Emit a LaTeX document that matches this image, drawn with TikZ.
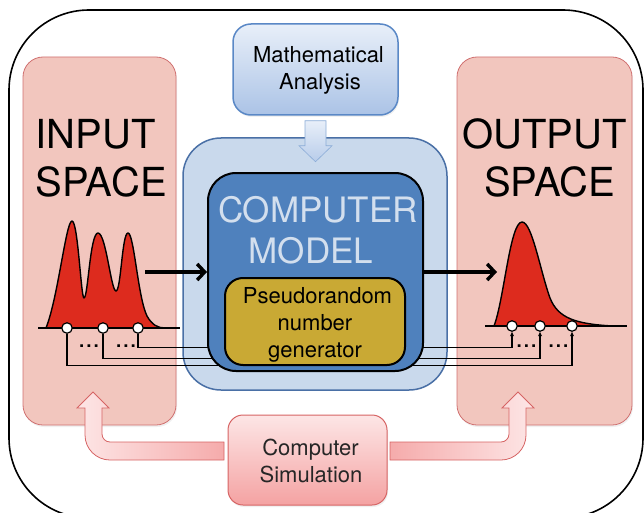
\documentclass[tikz,border=0pt]{standalone}
\usepackage{fontspec}
\setmainfont{TeX Gyre Heros}
\usetikzlibrary{arrows.meta,calc,shadows}

\definecolor{spacefill}{HTML}{F2C6BE}
\definecolor{spaceedge}{HTML}{D07070}
\definecolor{contfill}{HTML}{C9D9EC}
\definecolor{contedge}{HTML}{4A70A6}
\definecolor{modelfill}{HTML}{4F81BD}
\definecolor{modeltext}{HTML}{D3DFEE}
\definecolor{prngfill}{HTML}{C9A934}
\definecolor{mathtop}{HTML}{E8EFF9}
\definecolor{mathbot}{HTML}{ABC3E6}
\definecolor{mathedge}{HTML}{5A88C6}
\definecolor{simtop}{HTML}{FDE6E6}
\definecolor{simbot}{HTML}{F4A2A2}
\definecolor{simedge}{HTML}{D66464}
\definecolor{pdfred}{HTML}{DD2B1E}

\begin{document}
\begin{tikzpicture}[x=1pt,y=-1pt,
  panel/.style={rectangle, inner sep=0pt},
  spacebox/.style={panel, fill=spacefill, draw=spaceedge, line width=0.8pt,
    rounded corners=20pt,
    drop shadow={opacity=0.12, shadow xshift=1pt, shadow yshift=-2pt}},
  lbl/.style={inner sep=0pt, font=\fontsize{22}{27}\selectfont},
  biglbl/.style={inner sep=0pt, font=\fontsize{40}{47}\selectfont},
  modellbl/.style={inner sep=0pt, text=modeltext, font=\fontsize{35}{41}\selectfont},
  dotsl/.style={inner sep=0pt, font=\fontsize{26}{26}\selectfont},
  sample/.style={circle, draw=black, fill=white, line width=1.2pt,
    minimum size=10.5pt, inner sep=0pt},
  wire/.style={line width=1.1pt},
  wirein/.style={wire, -{Stealth[length=4.5pt,width=4pt]}},
  flow/.style={line width=3.4pt, -{Straight Barb[length=7.5pt,width=16pt]}},
  density/.style={fill=pdfred, draw=black, line width=1.4pt, line join=round},
  blockarrow/.style={draw=simedge, line width=0.8pt, line join=miter}
]
\useasboundingbox (0,0) rectangle (644,513);
\clip (0,0) rectangle (644,513);

% outer frame
\draw[line width=1.6pt, rounded corners=80pt] (9,10) rectangle (643,518);

% input and output spaces
\node[spacebox, minimum width=153pt, minimum height=368pt] (inbox) at (99.5,241) {};
\node[spacebox, minimum width=175pt, minimum height=368pt] (outbox) at (544.5,241) {};
\node[biglbl, anchor=base west] (inT1) at (35.5,149) {INPUT};
\node[biglbl, anchor=base west] (inT2) at (35.5,196) {SPACE};
\node[biglbl, anchor=base] (outT1) at (544.5,149) {OUTPUT};
\node[biglbl, anchor=base] (outT2) at (549.5,196) {SPACE};

% mathematical analysis
\node[panel, minimum width=165pt, minimum height=91pt, rounded corners=18pt,
  draw=mathedge, line width=1.5pt, top color=mathtop, bottom color=mathbot,
  drop shadow={opacity=0.12, shadow xshift=1pt, shadow yshift=-2pt}] (math) at (315.5,69.5) {};
\node[lbl, anchor=base] (mathT1) at (318.5,63) {Mathematical};
\node[lbl, anchor=base] (mathT2) at (320,90) {Analysis};

% container of the model
\node[panel, minimum width=264pt, minimum height=252pt, rounded corners=38pt,
  fill=contfill, draw=contedge, line width=1.5pt] (cont) at (315,264) {};

% block arrow from the analysis to the model
\path[draw=mathedge!70, line width=0.6pt, top color=mathtop, bottom color=mathbot!85]
  ($(math.south)+(-10.5,5)$) -- ++(21,0) -- ++(0,25) -- ++(6,0)
  -- ++(-16.5,16) -- ++(-16.5,-16) -- ++(6,0) -- cycle;

% input density
\path[density]
  (46,328) .. controls (58,298) and (66,221) .. (72,221)
  .. controls (78,221) and (81,298) .. (84,298)
  .. controls (88,298) and (90,233) .. (98,233)
  .. controls (106,233) and (111,291) .. (116,291)
  .. controls (121,291) and (122,233) .. (128,233)
  .. controls (134,233) and (138,298) .. (147,316)
  .. controls (152,325) and (158,328) .. (165,328) -- cycle;
\draw[line width=2pt] (38,328) -- (180,328);

% output density
\path[density]
  (494,326) .. controls (504,300) and (510,222) .. (522,222)
  .. controls (532,222) and (540,270) .. (550,298)
  .. controls (558,318) and (575,324) .. (613,326) -- cycle;
\draw[line width=2pt] (485,326) -- (627,326);

% samples
\foreach \n/\x in {1/67,2/103,3/138} \node[sample] (i\n) at (\x,328) {};
\foreach \n/\x in {1/512,2/540,3/572} \node[sample] (o\n) at (\x,326) {};
\node[dotsl, anchor=base] (di1) at (89,347) {...};
\node[dotsl, anchor=base] (di2) at (126,347) {...};
\node[dotsl, anchor=base] (do1) at (526.5,347) {...};
\node[dotsl, anchor=base] (do2) at (558.5,347) {...};

% sample runs through the model
\draw[wirein] (i3.south) -- ++(0,13.5) -| (o1.south);
\draw[wirein] (i2.south) -- ++(0,24.5) -| (o2.south);
\draw[wirein] (i1.south) -- ++(0,31.5) -| (o3.south);

% computer model
\node[panel, minimum width=215pt, minimum height=198pt, rounded corners=28pt,
  fill=modelfill, draw=black, line width=2pt] (model) at (315.5,272) {};
\node[modellbl, anchor=base] (modelT1) at (318,222) {COMPUTER};
\node[modellbl, anchor=base] (modelT2) at (311,263) {MODEL};

\node[panel, minimum width=180pt, minimum height=87pt, rounded corners=18pt,
  fill=prngfill, draw=black, line width=2pt] (prng) at (315,321.5) {};
\node[lbl, anchor=base] (prngT1) at (317.5,303) {Pseudorandom};
\node[lbl, anchor=base] (prngT2) at (315,330) {number};
\node[lbl, anchor=base] (prngT3) at (315,357) {generator};

% flow through the model
\coordinate (inA) at (145,272);
\coordinate (outA) at (497,272);
\draw[flow] (inA) -- (model.west);
\draw[flow] (model.east) -- (outA);

% computer simulation
\node[panel, minimum width=159pt, minimum height=90pt, rounded corners=15pt,
  draw=simedge, line width=1pt, top color=simtop, bottom color=simbot,
  drop shadow={opacity=0.12, shadow xshift=1pt, shadow yshift=-2pt}] (sim) at (307.5,460) {};
\node[lbl, anchor=base, text=black!85] (simT1) at (310.5,455) {Computer};
\node[lbl, anchor=base, text=black!85] (simT2) at (311,482) {Simulation};

\path[blockarrow, left color=simtop, right color=simbot!90]
  (224,442) -- (110,442) .. controls (105.6,442) and (102,438.4) .. (102,434)
  -- (102,408) -- (109,408) -- (93,392) -- (77,408) -- (85,408) -- (85,435)
  .. controls (85,448.8) and (96.2,460) .. (110,460) -- (224,460) -- cycle;
\path[blockarrow, left color=simbot!90, right color=simtop]
  (390,442) -- (501,442) .. controls (505.4,442) and (509,438.4) .. (509,434)
  -- (509,408) -- (502,408) -- (518,392) -- (534,408) -- (526,408) -- (526,435)
  .. controls (526,448.8) and (514.8,460) .. (501,460) -- (390,460) -- cycle;
\end{tikzpicture}
\end{document}
